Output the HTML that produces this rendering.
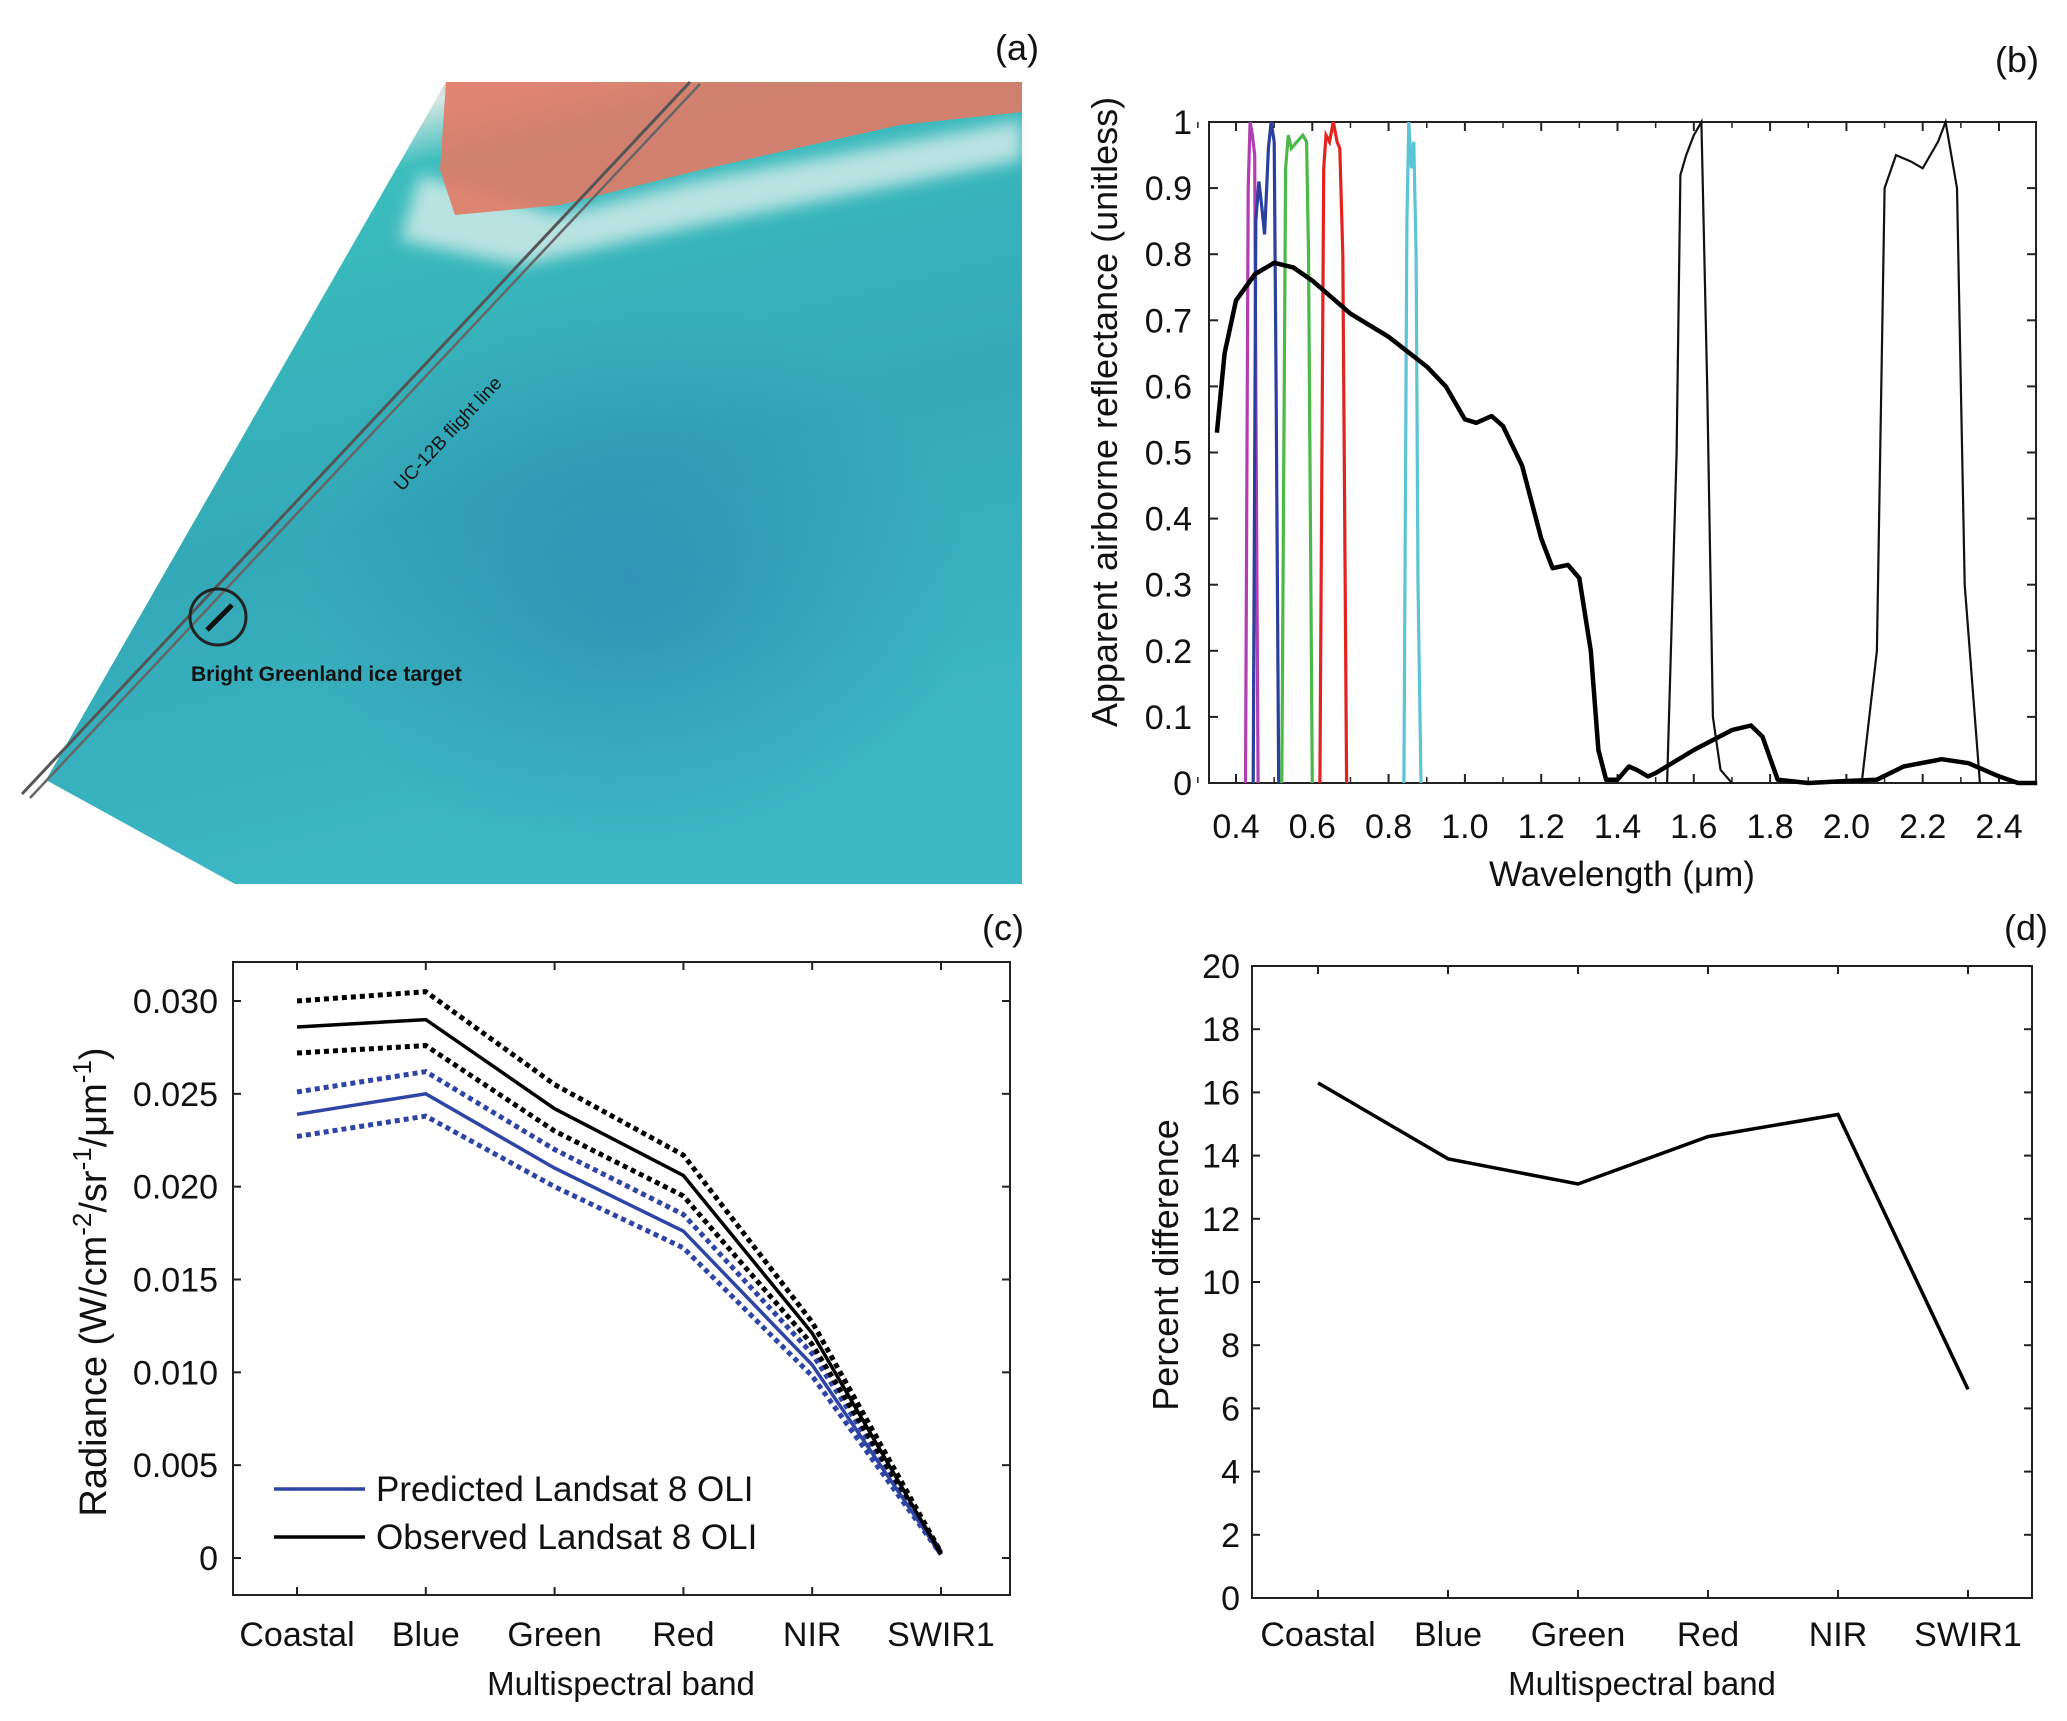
<!DOCTYPE html>
<html><head><meta charset="utf-8"><style>
html,body{margin:0;padding:0;background:#fff}
svg{display:block}
text{font-family:"Liberation Sans",sans-serif;fill:#111}
</style></head><body>
<svg id="fig" width="2067" height="1721" viewBox="0 0 2067 1721" xmlns="http://www.w3.org/2000/svg">
<defs>
<linearGradient id="iceg" x1="0" y1="0" x2="0.3" y2="1">
<stop offset="0" stop-color="#e8dcd6"/><stop offset="0.07" stop-color="#e08a76"/><stop offset="0.13" stop-color="#d8e8e4"/><stop offset="0.2" stop-color="#3bbdbd"/><stop offset="0.6" stop-color="#34a9b8"/><stop offset="1" stop-color="#3cb8c4"/>
</linearGradient>
<radialGradient id="dark" cx="0.6" cy="0.62" r="0.35"><stop offset="0" stop-color="#2a7fb0" stop-opacity="0.55"/><stop offset="1" stop-color="#2a7fb0" stop-opacity="0"/></radialGradient>
<filter id="blur"><feGaussianBlur stdDeviation="8"/></filter>
</defs>
<g>
<polygon points="446,82 1022,82 1022,884 235,884 46,780" fill="url(#iceg)"/>
<polygon points="446,82 1022,82 1022,884 235,884 46,780" fill="url(#dark)"/>
<polygon points="420,175 560,215 700,180 1022,120 1022,160 700,225 520,265 400,240" fill="#e4f1ee" opacity="0.75" filter="url(#blur)"/>
<polygon points="446,82 1022,82 1022,112 900,125 700,170 560,205 455,215 440,170" fill="#e27a66" opacity="0.9"/>
<line x1="22" y1="794" x2="690" y2="82" stroke="#555" stroke-width="3"/>
<line x1="30" y1="798" x2="700" y2="84" stroke="#666" stroke-width="2.5"/>
<circle cx="218" cy="617" r="28" fill="none" stroke="#222" stroke-width="3"/>
<line x1="207" y1="630" x2="232" y2="605" stroke="#111" stroke-width="5"/>
<text x="191" y="681" font-size="21" font-weight="bold" fill="#333">Bright Greenland ice  target</text>
<text x="0" y="0" font-size="19" fill="#333" transform="translate(402,492) rotate(-47)">UC-12B flight line</text>
<text x="995" y="60" font-size="36">(a)</text>
</g>
<g id="pb"></g>
<g id="pc"></g>
<g id="pd"></g>
</svg>
<script>
// ---------- Panel (b) data ----------
const reflWl = [0.35,0.37,0.40,0.45,0.50,0.55,0.60,0.65,0.70,0.80,0.90,0.95,1.00,1.03,1.07,1.10,1.15,1.20,1.23,1.27,1.30,1.33,1.35,1.37,1.40,1.43,1.45,1.48,1.50,1.60,1.70,1.75,1.78,1.82,1.90,2.00,2.08,2.15,2.25,2.32,2.40,2.45,2.50];
const reflVal = [0.53,0.65,0.73,0.77,0.787,0.78,0.76,0.735,0.71,0.675,0.63,0.60,0.55,0.545,0.555,0.54,0.48,0.37,0.325,0.33,0.31,0.20,0.05,0.005,0.005,0.025,0.02,0.01,0.015,0.05,0.08,0.087,0.07,0.005,0,0.003,0.005,0.025,0.036,0.03,0.01,0,0];
const bandNames = ["coastal","blue","green","red","nir","swir1","swir2"];
const bandColors = ["#b13fb3","#2a3f9e","#4cb84a","#e3231f","#5cc4d4","#111","#111"];
const bandWl = [
 [0.425,0.432,0.437,0.443,0.449,0.452,0.458],
 [0.445,0.452,0.460,0.468,0.475,0.485,0.492,0.500,0.505,0.512],
 [0.520,0.530,0.537,0.545,0.560,0.575,0.585,0.590,0.600],
 [0.620,0.630,0.636,0.645,0.655,0.665,0.672,0.680,0.690],
 [0.840,0.848,0.853,0.860,0.866,0.872,0.877,0.885],
 [1.530,1.555,1.565,1.580,1.600,1.620,1.635,1.650,1.670,1.700],
 [2.040,2.080,2.100,2.130,2.170,2.200,2.240,2.260,2.290,2.310,2.350]];
const bandResp = [
 [0,0.9,1.0,0.98,0.95,0.6,0],
 [0,0.85,0.91,0.87,0.83,0.96,1.0,0.97,0.6,0],
 [0,0.93,0.98,0.96,0.97,0.98,0.97,0.8,0],
 [0,0.93,0.98,0.97,1.0,0.97,0.96,0.8,0],
 [0,0.85,1.0,0.93,0.97,0.8,0.3,0],
 [0,0.5,0.92,0.95,0.98,1.0,0.6,0.1,0.02,0],
 [0,0.2,0.9,0.95,0.94,0.93,0.97,1.0,0.9,0.3,0]];
const bXTicks = ["0.4","0.6","0.8","1.0","1.2","1.4","1.6","1.8","2.0","2.2","2.4"];
const bYTicks = ["0","0.1","0.2","0.3","0.4","0.5","0.6","0.7","0.8","0.9","1"];

// ---------- Panel (c) data ----------
const bands = ["Coastal","Blue","Green","Red","NIR","SWIR1"];
const obsMean = [0.0286,0.0290,0.0242,0.0206,0.0121,0.0002];
const obsHigh = [0.0300,0.0305,0.0255,0.0217,0.0127,0.0003];
const obsLow  = [0.0272,0.0276,0.0230,0.0195,0.0115,0.0002];
const predMean = [0.0239,0.0250,0.0210,0.0176,0.0104,0.0002];
const predHigh = [0.0251,0.0262,0.0220,0.0185,0.0110,0.0003];
const predLow  = [0.0227,0.0238,0.0200,0.0167,0.0098,0.0002];
const cYTicks = ["0","0.005","0.010","0.015","0.020","0.025","0.030"];

// ---------- Panel (d) data ----------
const pctDiff = [16.3,13.9,13.1,14.6,15.3,6.6];
const dYTicks = ["0","2","4","6","8","10","12","14","16","18","20"];

const NS="http://www.w3.org/2000/svg";
function mk(parent,tag,attrs,txt){const e=document.createElementNS(NS,tag);for(const k in attrs)e.setAttribute(k,attrs[k]);if(txt!==undefined)e.textContent=txt;parent.appendChild(e);return e;}
function lin(d0,d1,r0,r1){return v=>r0+(v-d0)*(r1-r0)/(d1-d0);}
function pts(xs,ys,fx,fy){return xs.map((x,i)=>fx(x).toFixed(1)+","+fy(ys[i]).toFixed(1)).join(" ");}

// ===== Panel b =====
(function(){
 const g=document.getElementById('pb');
 const L=1209,R=2036,T=122,B=783;
 const x=lin(0.4,2.4,1236,1999), y=lin(0,1,B,T);
 let r=mk(g,'rect',{x:L,y:T,width:R-L,height:B-T,fill:'none',stroke:'#222','stroke-width':2});
 
 bXTicks.forEach(t=>{const px=x(parseFloat(t));
  mk(g,'line',{x1:px,y1:B,x2:px,y2:B-9,stroke:'#222','stroke-width':2});
  mk(g,'line',{x1:px,y1:T,x2:px,y2:T+9,stroke:'#222','stroke-width':2});
  const tt=mk(g,'text',{x:px,y:838,'font-size':34,'text-anchor':'middle'},t);
  });
 [0.3,0.5,0.7,0.9,1.1,1.3,1.5,1.7,1.9,2.1,2.3,2.5].forEach(v=>{const px=x(v);if(px<R){
  mk(g,'line',{x1:px,y1:B,x2:px,y2:B-6,stroke:'#222','stroke-width':1.5});
  mk(g,'line',{x1:px,y1:T,x2:px,y2:T+6,stroke:'#222','stroke-width':1.5});}});
 bYTicks.forEach(t=>{const py=y(parseFloat(t));
  mk(g,'line',{x1:L,y1:py,x2:L+9,y2:py,stroke:'#222','stroke-width':2});
  mk(g,'line',{x1:R,y1:py,x2:R-9,y2:py,stroke:'#222','stroke-width':2});
  const tt=mk(g,'text',{x:1192,y:py+12,'font-size':34,'text-anchor':'end'},t);
  });
 bandWl.forEach((wl,i)=>{const p=mk(g,'polyline',{points:pts(wl,bandResp[i],x,y),fill:'none',stroke:bandColors[i],'stroke-width':i>=5?2.2:3.2});
  });
 const c=mk(g,'polyline',{points:pts(reflWl,reflVal,x,y),fill:'none',stroke:'#000','stroke-width':4.5,'stroke-linejoin':'round'});
 
 let t=mk(g,'text',{x:1622,y:886,'font-size':35,'text-anchor':'middle'},'Wavelength (μm)');
 
 t=mk(g,'text',{x:0,y:0,'font-size':36,'text-anchor':'middle',transform:'translate(1117,412) rotate(-90)'},'Apparent airborne reflectance (unitless)');
 
 t=mk(g,'text',{x:1995,y:72,'font-size':36},'(b)');
 
})();

// ===== Panel c =====
(function(){
 const g=document.getElementById('pc');
 const L=233,R=1010,T=962,B=1595;
 const x=i=>lin(0,5,297,941)(i), y=lin(0,0.030,1558,1001);
 let r=mk(g,'rect',{x:L,y:T,width:R-L,height:B-T,fill:'none',stroke:'#222','stroke-width':2});
 
 bands.forEach((b,i)=>{const px=x(i);
  mk(g,'line',{x1:px,y1:B,x2:px,y2:B-8,stroke:'#222','stroke-width':2});
  mk(g,'line',{x1:px,y1:T,x2:px,y2:T+8,stroke:'#222','stroke-width':2});
  const tt=mk(g,'text',{x:px,y:1646,'font-size':34,'text-anchor':'middle'},b);
  });
 cYTicks.forEach(t=>{const py=y(parseFloat(t));
  mk(g,'line',{x1:L,y1:py,x2:L+8,y2:py,stroke:'#222','stroke-width':2});
  mk(g,'line',{x1:R,y1:py,x2:R-8,y2:py,stroke:'#222','stroke-width':2});
  const tt=mk(g,'text',{x:218,y:py+12,'font-size':34,'text-anchor':'end'},t);
  });
 const idx=bands.map((_,i)=>i);
 const series=[[predLow,'#2e45a5',true,'predicted-lower'],[predHigh,'#2e45a5',true,'predicted-upper'],[obsLow,'#000',true,'observed-lower'],[obsHigh,'#000',true,'observed-upper'],[predMean,'#2e45a5',false,'predicted-line'],[obsMean,'#000',false,'observed-line']];
 series.forEach(s=>{const a={points:pts(idx,s[0],x,y),fill:'none',stroke:s[1],'stroke-width':s[2]?5:3.5};if(s[2])a['stroke-dasharray']='5 4';
  const p=mk(g,'polyline',a);});
 let l=mk(g,'line',{x1:274,y1:1489,x2:365,y2:1489,stroke:'#2e45a5','stroke-width':3.5});
 
 l=mk(g,'line',{x1:274,y1:1537,x2:365,y2:1537,stroke:'#000','stroke-width':3.5});
 
 let t=mk(g,'text',{x:376,y:1501,'font-size':35},'Predicted Landsat 8 OLI');
 
 t=mk(g,'text',{x:376,y:1549,'font-size':35},'Observed Landsat 8 OLI');
 
 t=mk(g,'text',{x:621,y:1695,'font-size':33,'text-anchor':'middle'},'Multispectral band');
 
 t=mk(g,'text',{x:0,y:0,'font-size':38,'text-anchor':'middle',transform:'translate(106,1282) rotate(-90)'});
 t.innerHTML='Radiance (W/cm<tspan dy="-15" font-size="26">-2</tspan><tspan dy="15">/sr</tspan><tspan dy="-15" font-size="26">-1</tspan><tspan dy="15">/μm</tspan><tspan dy="-15" font-size="26">-1</tspan><tspan dy="15">)</tspan>';
 
 t=mk(g,'text',{x:982,y:940,'font-size':36},'(c)');
 
})();

// ===== Panel d =====
(function(){
 const g=document.getElementById('pd');
 const L=1252,R=2032,T=966,B=1598;
 const x=i=>lin(0,5,1318,1968)(i), y=lin(0,20,B,T);
 let r=mk(g,'rect',{x:L,y:T,width:R-L,height:B-T,fill:'none',stroke:'#222','stroke-width':2});
 
 bands.forEach((b,i)=>{const px=x(i);
  mk(g,'line',{x1:px,y1:B,x2:px,y2:B-8,stroke:'#222','stroke-width':2});
  mk(g,'line',{x1:px,y1:T,x2:px,y2:T+8,stroke:'#222','stroke-width':2});
  const tt=mk(g,'text',{x:px,y:1646,'font-size':34,'text-anchor':'middle'},b);
  });
 dYTicks.forEach(t=>{const py=y(parseFloat(t));
  mk(g,'line',{x1:L,y1:py,x2:L+8,y2:py,stroke:'#222','stroke-width':2});
  mk(g,'line',{x1:R,y1:py,x2:R-8,y2:py,stroke:'#222','stroke-width':2});
  const tt=mk(g,'text',{x:1240,y:py+12,'font-size':34,'text-anchor':'end'},t);
  });
 const p=mk(g,'polyline',{points:pts(bands.map((_,i)=>i),pctDiff,x,y),fill:'none',stroke:'#000','stroke-width':3.5});
 
 let t=mk(g,'text',{x:1642,y:1695,'font-size':33,'text-anchor':'middle'},'Multispectral band');
 
 t=mk(g,'text',{x:0,y:0,'font-size':36,'text-anchor':'middle',transform:'translate(1178,1265) rotate(-90)'},'Percent difference');
 
 t=mk(g,'text',{x:2004,y:940,'font-size':36},'(d)');
 
})();
</script>
</body></html>
